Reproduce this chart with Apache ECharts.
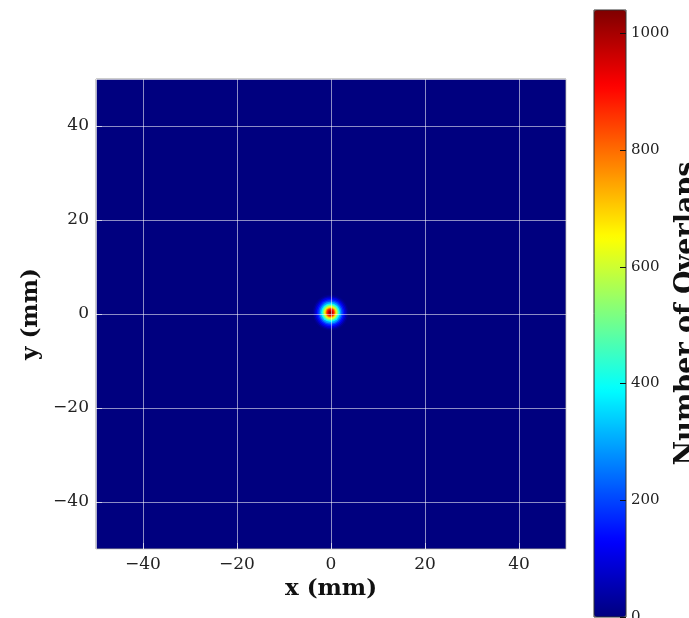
<!DOCTYPE html>
<html>
<head>
<meta charset="utf-8">
<script src="https://cdn.jsdelivr.net/npm/echarts@6/dist/echarts.min.js"></script>
<style>
  html, body { margin: 0; padding: 0; background: #ffffff; }
  #chart { width: 689px; height: 618px; }
</style>
</head>
<body>
<div id="chart"></div>
<script>
// ---- data ----
const xRange = [-50, 50];
const yRange = [-50, 50];
const xTicks = [-40, -20, 0, 20, 40];
const yTicks = [-40, -20, 0, 20, 40];
const cbarMax = 1040;
const cbarTicks = [0, 200, 400, 600, 800, 1000];
// uniform field of overlaps outside the beam spot
const fieldCenter = [0, 0];
const fieldHalfSize = [50];
const fieldCount = [0];
// beam spot: centre and radial profile (radius in mm, overlaps)
const spotCenter = [-0.1, 0.3];
const ringRadius = [3.8, 3.5, 3.2, 2.9, 2.6, 2.3, 2.0, 1.8, 1.6, 1.4, 1.2, 1.0, 0.8, 0.6, 0.4, 0.2];
const ringCount  = [15, 50, 100, 150, 210, 290, 380, 450, 530, 610, 700, 800, 880, 950, 1000, 1040];

const jet = ['#00007f', '#0000ff', '#007fff', '#00ffff', '#7fff7f', '#ffff00', '#ff7f00', '#ff0000', '#7f0000'];
const FONT = 'DejaVu Serif';

const fieldData = fieldCount.map((v, i) => [fieldCenter[0], fieldCenter[1], fieldHalfSize[i], v]);
const ringData = ringRadius.map((r, i) => [spotCenter[0], spotCenter[1], r, ringCount[i]]);

const fmt = v => (v < 0 ? '\u2212' + Math.abs(v) : String(v));

const chart = echarts.init(document.getElementById('chart'), null, { renderer: 'canvas' });
chart.setOption({
  backgroundColor: '#ffffff',
  animation: false,
  grid: [
    { left: 96, top: 79, width: 470, height: 470, show: true, borderColor: '#9a9a9a', borderWidth: 1, backgroundColor: 'transparent', z: 5, containLabel: false, outerBoundsMode: 'none' },
    { left: 594, top: 10, width: 32, height: 607, show: true, borderColor: '#333333', borderWidth: 1, backgroundColor: 'transparent', z: 10, containLabel: false, outerBoundsMode: 'none' }
  ],
  xAxis: [
    {
      gridIndex: 0, type: 'value', min: xRange[0], max: xRange[1], z: 5,
      axisLine: { show: false, onZero: false },
      axisTick: { show: true, inside: true, length: 6, lineStyle: { color: 'rgba(255,255,255,0.6)' } },
      axisLabel: { show: true, showMinLabel: false, showMaxLabel: false, fontFamily: FONT, fontSize: 17, color: '#222', margin: 7, formatter: fmt },
      splitLine: { show: true, lineStyle: { color: 'rgba(255,255,255,0.55)', width: 1 } },
      name: 'x (mm)', nameLocation: 'middle', nameGap: 27,
      nameTextStyle: { fontFamily: FONT, fontSize: 23, fontWeight: 'bold', color: '#111' }
    },
    { gridIndex: 1, type: 'value', min: 0, max: 1, show: false, axisLine: { onZero: false } }
  ],
  yAxis: [
    {
      gridIndex: 0, type: 'value', min: yRange[0], max: yRange[1], z: 5,
      axisLine: { show: false, onZero: false },
      axisTick: { show: true, inside: true, length: 6, lineStyle: { color: 'rgba(255,255,255,0.6)' } },
      axisLabel: { show: true, showMinLabel: false, showMaxLabel: false, fontFamily: FONT, fontSize: 17, color: '#222', margin: 7, formatter: fmt },
      splitLine: { show: true, lineStyle: { color: 'rgba(255,255,255,0.55)', width: 1 } },
      name: 'y (mm)', nameLocation: 'middle', nameGap: 52, nameRotate: 90,
      nameTextStyle: { fontFamily: FONT, fontSize: 23, fontWeight: 'bold', color: '#111' }
    },
    {
      gridIndex: 1, type: 'value', min: 0, max: cbarMax, position: 'right', z: 10,
      axisLine: { show: false, onZero: false },
      axisTick: { show: true, inside: true, length: 6, lineStyle: { color: '#111', width: 1 } },
      axisLabel: { show: true, showMaxLabel: false, fontFamily: FONT, fontSize: 15, color: '#222', margin: 5, formatter: v => String(v) },
      splitLine: { show: false },
      name: 'Number of Overlaps', nameLocation: 'middle', nameGap: 47, nameRotate: 90,
      nameTextStyle: { fontFamily: FONT, fontSize: 27, fontWeight: 'bold', color: '#111' }
    }
  ],
  visualMap: {
    type: 'continuous', min: 0, max: cbarMax, dimension: 3, seriesIndex: [0, 1],
    inRange: { color: jet },
    left: 594, top: 10, itemWidth: 32, itemHeight: 607, padding: 0,
    calculable: false, hoverLink: false, z: 2
  },
  series: [
    {
      type: 'custom', xAxisIndex: 0, yAxisIndex: 0, clip: true, data: fieldData,
      encode: { x: 0, y: 1 },
      renderItem: function (params, api) {
        const cx = api.value(0), cy = api.value(1), h = api.value(2);
        const p1 = api.coord([cx - h, cy + h]);
        const p2 = api.coord([cx + h, cy - h]);
        return { type: 'rect', shape: { x: p1[0], y: p1[1], width: p2[0] - p1[0], height: p2[1] - p1[1] }, style: { fill: api.visual('color') } };
      }
    },
    {
      type: 'custom', xAxisIndex: 0, yAxisIndex: 0, clip: true, data: ringData,
      encode: { x: 0, y: 1 },
      renderItem: function (params, api) {
        const c = api.coord([api.value(0), api.value(1)]);
        const r = api.size([api.value(2), 0])[0];
        return { type: 'circle', shape: { cx: c[0], cy: c[1], r: r }, style: { fill: api.visual('color') } };
      }
    }
  ]
});
</script>
</body>
</html>
